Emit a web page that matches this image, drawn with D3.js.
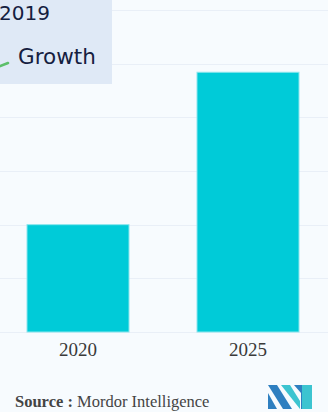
<!DOCTYPE html>
<html><head><meta charset="utf-8">
<script src="https://cdn.jsdelivr.net/npm/d3@7"></script>
<style>html,body{margin:0;padding:0;background:#f7fbfe;}svg{display:block;}</style>
</head><body>
<script>
const categories = ["2020", "2025"];
const values = [2.0, 4.84];
const yTicks = [0, 1, 2, 3, 4, 5, 6];
const legendLabels = ["2019", "Growth"];

const W = 328, H = 412;
const svg = d3.select("body").append("svg").attr("width", W).attr("height", H);
svg.append("rect").attr("width", W).attr("height", H).attr("fill", "#f7fbfe");

const x = d3.scaleBand().domain(categories).range([-7, 333]).paddingInner(0.4).paddingOuter(0.2);
const y = d3.scaleLinear().domain([0, 6]).range([332, 10]);

// gridlines
svg.append("g").selectAll("line").data(yTicks).join("line")
  .attr("x1", 0).attr("x2", W)
  .attr("y1", d => Math.round(y(d)) + 0.5).attr("y2", d => Math.round(y(d)) + 0.5)
  .attr("stroke", "#e9eff7").attr("stroke-width", 1);

// bars
svg.append("g").selectAll("rect").data(categories).join("rect")
  .attr("x", d => x(d)).attr("width", x.bandwidth())
  .attr("y", (d, i) => y(values[i])).attr("height", (d, i) => y(0) - y(values[i]))
  .attr("fill", "#00cbd8").attr("stroke", "#8ce6ed").attr("stroke-width", 1);

// x axis labels
const xAxis = d3.axisBottom(x).tickSize(0).tickPadding(11);
const gx = svg.append("g").attr("transform", "translate(0,332)").call(xAxis);
gx.select(".domain").remove();
gx.selectAll("text").attr("font-family", "Liberation Serif, serif").attr("font-size", 19).attr("fill", "#3a3a3a");

// legend box
svg.append("rect").attr("x", -2).attr("y", -2).attr("width", 114).attr("height", 86).attr("fill", "#dfe9f6");
svg.append("text").attr("x", -1).attr("y", 20).text(legendLabels[0])
  .attr("font-family", "DejaVu Sans, sans-serif").attr("font-size", 20).attr("fill", "#15203f");
svg.append("line").attr("x1", -2).attr("y1", 67).attr("x2", 8).attr("y2", 63)
  .attr("stroke", "#5cbf6a").attr("stroke-width", 2.5).attr("stroke-linecap", "round");
svg.append("text").attr("x", 18).attr("y", 64).text(legendLabels[1])
  .attr("font-family", "DejaVu Sans, sans-serif").attr("font-size", 21.5).attr("fill", "#15203f");

// source
const src = svg.append("text").attr("x", 15).attr("y", 407)
  .attr("font-family", "Liberation Serif, serif").attr("font-size", 16.5).attr("fill", "#444");
src.append("tspan").attr("font-weight", "bold").text("Source : ");
src.append("tspan").text("Mordor Intelligence");

// logo
const lg = svg.append("g").attr("transform", "translate(268,385)");
lg.append("path").attr("d", "M0,0 L9,0 L24,24 L15,24 Z").attr("fill", "#2e7fc0");
lg.append("path").attr("d", "M0,8 L0,24 L9,24 Z").attr("fill", "#2e7fc0");
lg.append("path").attr("d", "M13,0 L22,0 L32,16 L32,24 Z").attr("fill", "#3cc4d0");
lg.append("path").attr("d", "M26,0 L36,0 L36,24 L33,24 L33,8 Z").attr("fill", "#2e7fc0");
lg.append("path").attr("d", "M34,0 L44,0 L44,24 L34,24 Z").attr("fill", "#3cc4d0");
</script>
</body></html>
